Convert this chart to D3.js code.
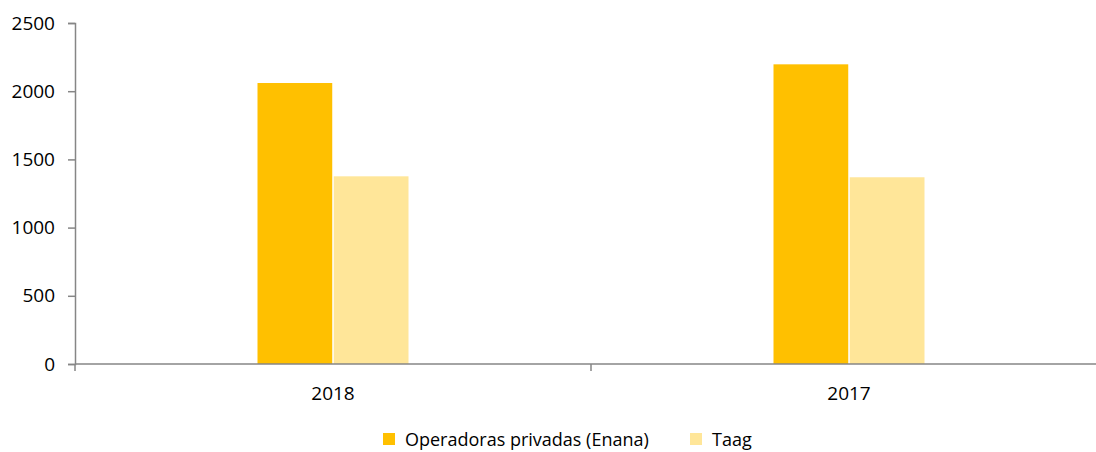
<!DOCTYPE html>
<html>
<head>
<meta charset="utf-8">
<script src="https://cdn.jsdelivr.net/npm/d3@7"></script>
<style>
  body { margin: 0; background: #fff; }
  text { font-family: "Open Sans", sans-serif; fill: #000; }
</style>
</head>
<body>
<div id="chart"></div>
<script>
// data
const years = ["2018", "2017"];
const seriesNames = ["Operadoras privadas (Enana)", "Taag"];
const enana = [2060, 2197];
const taag = [1376, 1369];
const yTicks = [0, 500, 1000, 1500, 2000, 2500];

const colors = ["#FFC000", "#FFE699"];

const W = 1096, H = 452;
const margin = { top: 23, left: 75, bottom: 88 };
const plotRight = 1107; // last category runs off the edge
const y0 = 364;

const svg = d3.select("#chart").append("svg")
    .attr("width", W)
    .attr("height", H);

const x = d3.scaleBand()
    .domain(years)
    .range([margin.left, plotRight])
    .padding(0);

const xs = d3.scaleBand()
    .domain(seriesNames)
    .range([-75.5, 75.5])
    .paddingInner(0.02);

const y = d3.scaleLinear()
    .domain([0, 2500])
    .range([y0, margin.top]);

const rows = years.map((yr, i) => ({ year: yr, vals: [enana[i], taag[i]] }));

// bars
const groups = svg.selectAll(".grp")
    .data(rows)
    .enter()
    .append("g")
    .attr("class", "grp")
    .attr("transform", d => `translate(${x(d.year) + x.bandwidth() / 2},0)`);

groups.selectAll("rect")
    .data(d => d.vals.map((v, i) => ({ name: seriesNames[i], v, i })))
    .enter()
    .append("rect")
    .attr("x", d => xs(d.name))
    .attr("width", xs.bandwidth())
    .attr("y", d => y(d.v))
    .attr("height", d => y0 - y(d.v))
    .style("fill", d => colors[d.i]);

// y axis
const yAxis = svg.append("g")
    .attr("transform", `translate(${margin.left},0)`)
    .call(d3.axisLeft(y).tickValues(yTicks).tickFormat(d3.format("d")).tickSize(7).tickPadding(13));
yAxis.select(".domain").attr("stroke", "#868686").attr("stroke-width", 1.5);
yAxis.selectAll(".tick line").attr("stroke", "#868686").attr("stroke-width", 1.5);
yAxis.selectAll(".tick text").style("font-size", "19px").attr("fill", "#000");

// x axis: category boundary ticks
const xAxis = svg.append("g");
xAxis.append("line")
    .attr("x1", margin.left).attr("x2", plotRight)
    .attr("y1", y0).attr("y2", y0)
    .attr("stroke", "#868686").attr("stroke-width", 1.5);
xAxis.selectAll(".bt")
    .data(years)
    .enter()
    .append("line")
    .attr("x1", d => x(d)).attr("x2", d => x(d))
    .attr("y1", y0).attr("y2", y0 + 7)
    .attr("stroke", "#868686").attr("stroke-width", 1.5);
xAxis.selectAll(".lbl")
    .data(years)
    .enter()
    .append("text")
    .attr("x", d => x(d) + x.bandwidth() / 2)
    .attr("y", y0 + 36)
    .attr("text-anchor", "middle")
    .style("font-size", "19px")
    .text(d => d);

// legend
const legendX = [383, 690];
const legend = svg.selectAll(".legend")
    .data(seriesNames)
    .enter()
    .append("g")
    .attr("class", "legend")
    .attr("transform", (d, i) => `translate(${legendX[i]},433)`);
legend.append("rect")
    .attr("width", 12)
    .attr("height", 12)
    .style("fill", (d, i) => colors[i]);
legend.append("text")
    .attr("x", 22)
    .attr("y", 13)
    .style("font-size", "18px")
    .text(d => d);
</script>
</body>
</html>
